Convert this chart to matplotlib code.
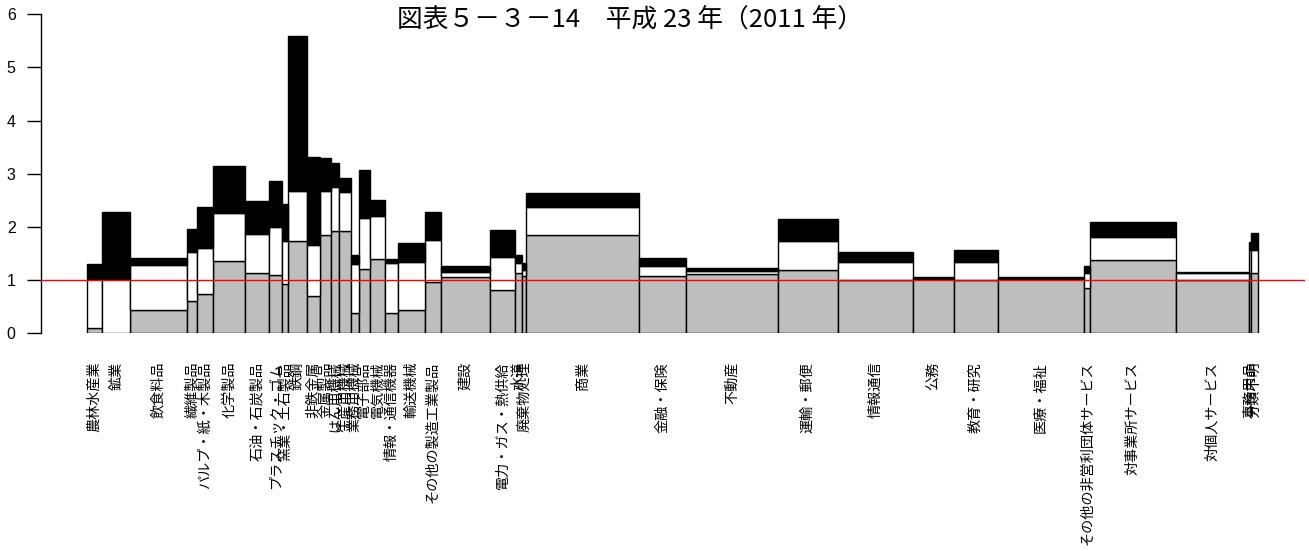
import numpy as np
import matplotlib
matplotlib.use("Agg")
import matplotlib.pyplot as plt
from matplotlib import font_manager

# 37 industry sectors (2011 classification)
sectors = [
    "農林水産業", "鉱業", "飲食料品", "繊維製品", "パルプ・紙・木製品", "化学製品",
    "石油・石炭製品", "プラスチック・ゴム", "窯業・土石製品", "鉄鋼", "非鉄金属",
    "金属製品", "はん用機械", "生産用機械", "業務用機械", "電子部品", "電気機械",
    "情報・通信機器", "輸送機械", "その他の製造工業製品", "建設", "電力・ガス・熱供給",
    "水道", "廃棄物処理", "商業", "金融・保険", "不動産", "運輸・郵便", "情報通信",
    "公務", "教育・研究", "医療・福祉", "その他の非営利団体サービス", "対事業所サービス",
    "対個人サービス", "事務用品", "分類不明",
]

# bar widths (share of total, %)
share = [
    1.33, 2.37, 4.89, 0.80, 1.39, 2.76, 2.05, 1.11, 0.46, 1.69, 1.07,
    0.91, 0.73, 0.97, 0.69, 0.96, 1.28, 1.11, 2.28, 1.37, 4.21, 2.16,
    0.60, 0.34, 9.65, 3.99, 7.83, 5.15, 6.38, 3.53, 3.73, 7.37, 0.51,
    7.32, 6.26, 0.15, 0.58,
]

# cumulative levels of the three stacked components
level_gray = [
    0.10, 0.01, 0.44, 0.61, 0.73, 1.36, 1.13, 1.10, 0.92, 1.74, 0.70,
    1.85, 1.93, 1.92, 0.39, 1.21, 1.39, 0.38, 0.43, 0.96, 1.05, 0.81,
    1.14, 1.07, 1.85, 1.08, 1.12, 1.19, 1.00, 1.03, 1.00, 1.03, 0.86,
    1.37, 1.00, 1.13, 1.13,
]
level_white = [
    1.03, 1.02, 1.28, 1.52, 1.60, 2.26, 1.86, 1.99, 1.73, 2.68, 1.67,
    2.68, 2.75, 2.65, 1.30, 2.16, 2.20, 1.33, 1.35, 1.75, 1.15, 1.43,
    1.33, 1.20, 2.38, 1.27, 1.17, 1.74, 1.34, 1.04, 1.35, 1.04, 1.14,
    1.81, 1.14, 1.57, 1.57,
]
level_black = [
    1.30, 2.29, 1.41, 1.96, 2.37, 3.15, 2.48, 2.87, 2.43, 5.59, 3.32,
    3.30, 3.21, 2.93, 1.47, 3.08, 2.50, 1.39, 1.69, 2.28, 1.27, 1.94,
    1.47, 1.32, 2.63, 1.41, 1.23, 2.15, 1.53, 1.05, 1.57, 1.05, 1.26,
    2.10, 1.16, 1.71, 1.88,
]

y_ticks = [0, 1, 2, 3, 4, 5, 6]
title = "図表５－３－14　平成 23 年（2011 年）"

available = {f.name for f in font_manager.fontManager.ttflist}
num_font = "Liberation Sans Narrow" if "Liberation Sans Narrow" in available else "Liberation Sans"
jp_font = ["Noto Sans CJK JP", "DejaVu Sans"]

W, H = 1309, 551
fig = plt.figure(figsize=(W / 100, H / 100), dpi=100)
ax = fig.add_axes([40.7 / W, (H - 333.3) / H, (1305 - 40.7) / W, (333.3 - 14.3) / H])

widths = np.array(share)
lefts = np.concatenate([[0], np.cumsum(widths)[:-1]])
total = widths.sum()
gray = np.array(level_gray)
white = np.array(level_white)
black = np.array(level_black)

edge = dict(edgecolor="black", linewidth=1.0, align="edge")
ax.bar(lefts, gray, width=widths, bottom=0, color="#BEBEBE", **edge)
ax.bar(lefts, white - gray, width=widths, bottom=gray, color="white", **edge)
ax.bar(lefts, black - white, width=widths, bottom=white, color="black", **edge)

ax.axhline(1, color="red", linewidth=1.0, zorder=5)

px = total / 1170.8
ax.set_xlim(-46 * px, (1305 - 86.7) * px)
ax.set_ylim(0, 6)

for s in ("top", "right", "bottom"):
    ax.spines[s].set_visible(False)
ax.spines["left"].set_bounds(0, 6)
ax.spines["left"].set_linewidth(1.0)

ax.set_yticks(y_ticks)
ax.set_yticklabels([str(t) for t in y_ticks], fontsize=11.5, family=num_font)
ax.tick_params(axis="y", length=10, width=1.0, pad=8)

centers = lefts + widths / 2
ax.set_xticks(centers)
ax.set_xticklabels(sectors, rotation=90, fontsize=10.2, family=jp_font)
ax.tick_params(axis="x", length=0, pad=20.5)

fig.text(630 / W, 1 - 20 / H, title, ha="center", va="center",
         fontsize=18.5, family=jp_font)

fig.savefig("out.png", dpi=100)
